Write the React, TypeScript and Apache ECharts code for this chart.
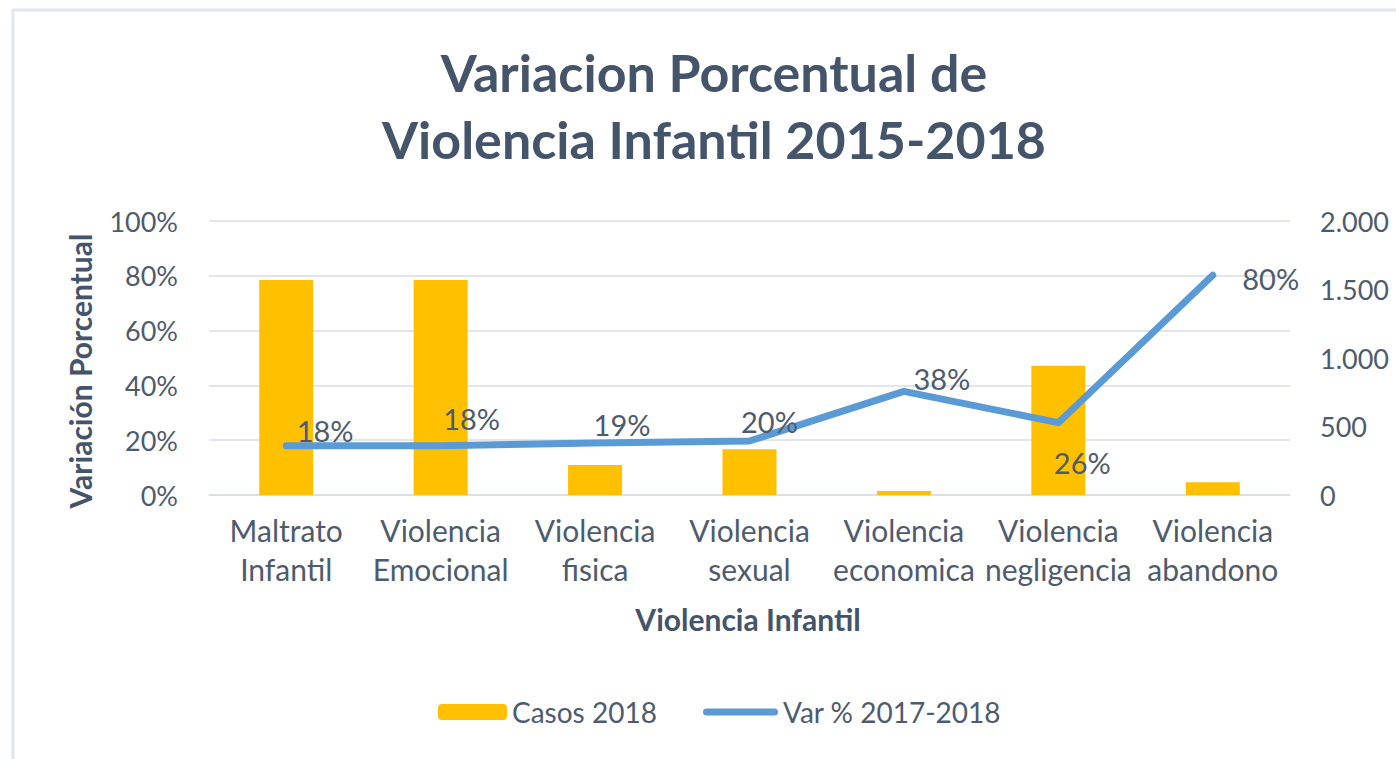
import React, { useEffect, useRef } from "react";
import * as echarts from "echarts";

const categories = [
  "Maltrato\nInfantil",
  "Violencia\nEmocional",
  "Violencia\nfisica",
  "Violencia\nsexual",
  "Violencia\neconomica",
  "Violencia\nnegligencia",
  "Violencia\nabandono",
];
const casos2018 = [1569, 1569, 219, 334, 29, 944, 93];
const varPct = [0.18, 0.18, 0.19, 0.197, 0.378, 0.264, 0.802];
const leftTicks = { min: 0, max: 1, interval: 0.2 };
const rightTicks = { min: 0, max: 2000, interval: 500 };
const labelOffsets: [number, number][] = [
  [10, -15],
  [2, -27],
  [-2, -18],
  [-9, -20],
  [9, -13],
  [-5, 40],
  [29, 3],
];

const TEXT = "#4E5B6E";
const DARK = "#44546A";
const FONT = "Lato";

export default function App() {
  const ref = useRef<HTMLDivElement>(null);
  useEffect(() => {
    if (!ref.current) return;
    const chart = echarts.init(ref.current, undefined, { renderer: "svg" });
    chart.setOption({
      animation: false,
      backgroundColor: "#ffffff",
      textStyle: { fontFamily: FONT },
      graphic: [
        {
          type: "rect",
          shape: { x: 13, y: 10, width: 1400, height: 770 },
          style: { fill: "none", stroke: "#E1E6EE", lineWidth: 3 },
          silent: true,
        },
        {
          type: "text",
          x: 714,
          y: 38,
          style: {
            text: "Variacion Porcentual de\nViolencia Infantil 2015-2018",
            align: "center",
            verticalAlign: "top",
            fontFamily: FONT,
            fontWeight: "bold",
            fontSize: 52,
            lineHeight: 67,
            fill: DARK,
          },
        },
        {
          type: "text",
          x: 80,
          y: 371,
          rotation: Math.PI / 2,
          style: {
            text: "Variación Porcentual",
            align: "center",
            verticalAlign: "middle",
            fontFamily: FONT,
            fontWeight: "bold",
            fontSize: 30,
            fill: DARK,
          },
        },
        {
          type: "text",
          x: 748,
          y: 619,
          style: {
            text: "Violencia Infantil",
            align: "center",
            verticalAlign: "middle",
            fontFamily: FONT,
            fontWeight: "bold",
            fontSize: 30,
            fill: DARK,
          },
        },
      ],
      grid: { left: 209, right: 106, top: 221, bottom: 264 },
      legend: [
        {
          left: 438,
          top: 698,
          padding: 0,
          itemWidth: 69,
          itemHeight: 16,
          itemGap: 43,
          textStyle: { fontFamily: FONT, fontSize: 28, color: TEXT },
          data: ["Casos 2018"],
        },
        {
          left: 703,
          top: 698,
          padding: 0,
          itemWidth: 75,
          itemHeight: 7,
          textStyle: { fontFamily: FONT, fontSize: 28, color: TEXT },
          data: [
            {
              name: "Var % 2017-2018",
              icon: "path://M3.5,0 H71.5 A3.5,3.5 0 0 1 71.5,7 H3.5 A3.5,3.5 0 0 1 3.5,0 Z",
            },
          ],
        },
      ],
      xAxis: {
        type: "category",
        data: categories,
        axisTick: { show: false },
        axisLine: { lineStyle: { color: "#D9DEE6", width: 1.5 } },
        axisLabel: {
          interval: 0,
          margin: 15,
          fontFamily: FONT,
          fontSize: 30,
          lineHeight: 39,
          color: TEXT,
        },
      },
      yAxis: [
        {
          type: "value",
          ...leftTicks,
          axisLine: { show: false },
          axisTick: { show: false },
          splitLine: { lineStyle: { color: "#D9DEE6", width: 1.5 } },
          axisLabel: {
            margin: 31,
            fontFamily: FONT,
            fontSize: 27,
            color: TEXT,
            formatter: (v: number) => Math.round(v * 100) + "%",
          },
        },
        {
          type: "value",
          ...rightTicks,
          axisLine: { show: false },
          axisTick: { show: false },
          splitLine: { show: false },
          axisLabel: {
            margin: 30,
            fontFamily: FONT,
            fontSize: 27,
            color: TEXT,
            formatter: (v: number) =>
              v.toString().replace(/\B(?=(\d{3})+(?!\d))/g, "."),
          },
        },
      ],
      series: [
        {
          name: "Casos 2018",
          type: "bar",
          yAxisIndex: 1,
          barWidth: 54,
          itemStyle: { color: "#FFC000" },
          data: casos2018,
        },
        {
          name: "Var % 2017-2018",
          type: "line",
          yAxisIndex: 0,
          symbol: "circle",
          symbolSize: 1,
          itemStyle: { color: "#5B9BD5" },
          lineStyle: { color: "#5B9BD5", width: 7, cap: "round", join: "round" },
          data: varPct.map((v, i) => ({
            value: v,
            label: {
              show: true,
              position: "right",
              distance: 0,
              offset: labelOffsets[i],
              fontFamily: FONT,
              fontSize: 29,
              color: TEXT,
              formatter: (p: any) => Math.round(p.value * 100) + "%",
            },
          })),
        },
      ],
    });
    return () => chart.dispose();
  }, []);
  return (
    <div
      ref={ref}
      style={{ position: "absolute", left: 0, top: 0, width: 1396, height: 759 }}
    />
  );
}
